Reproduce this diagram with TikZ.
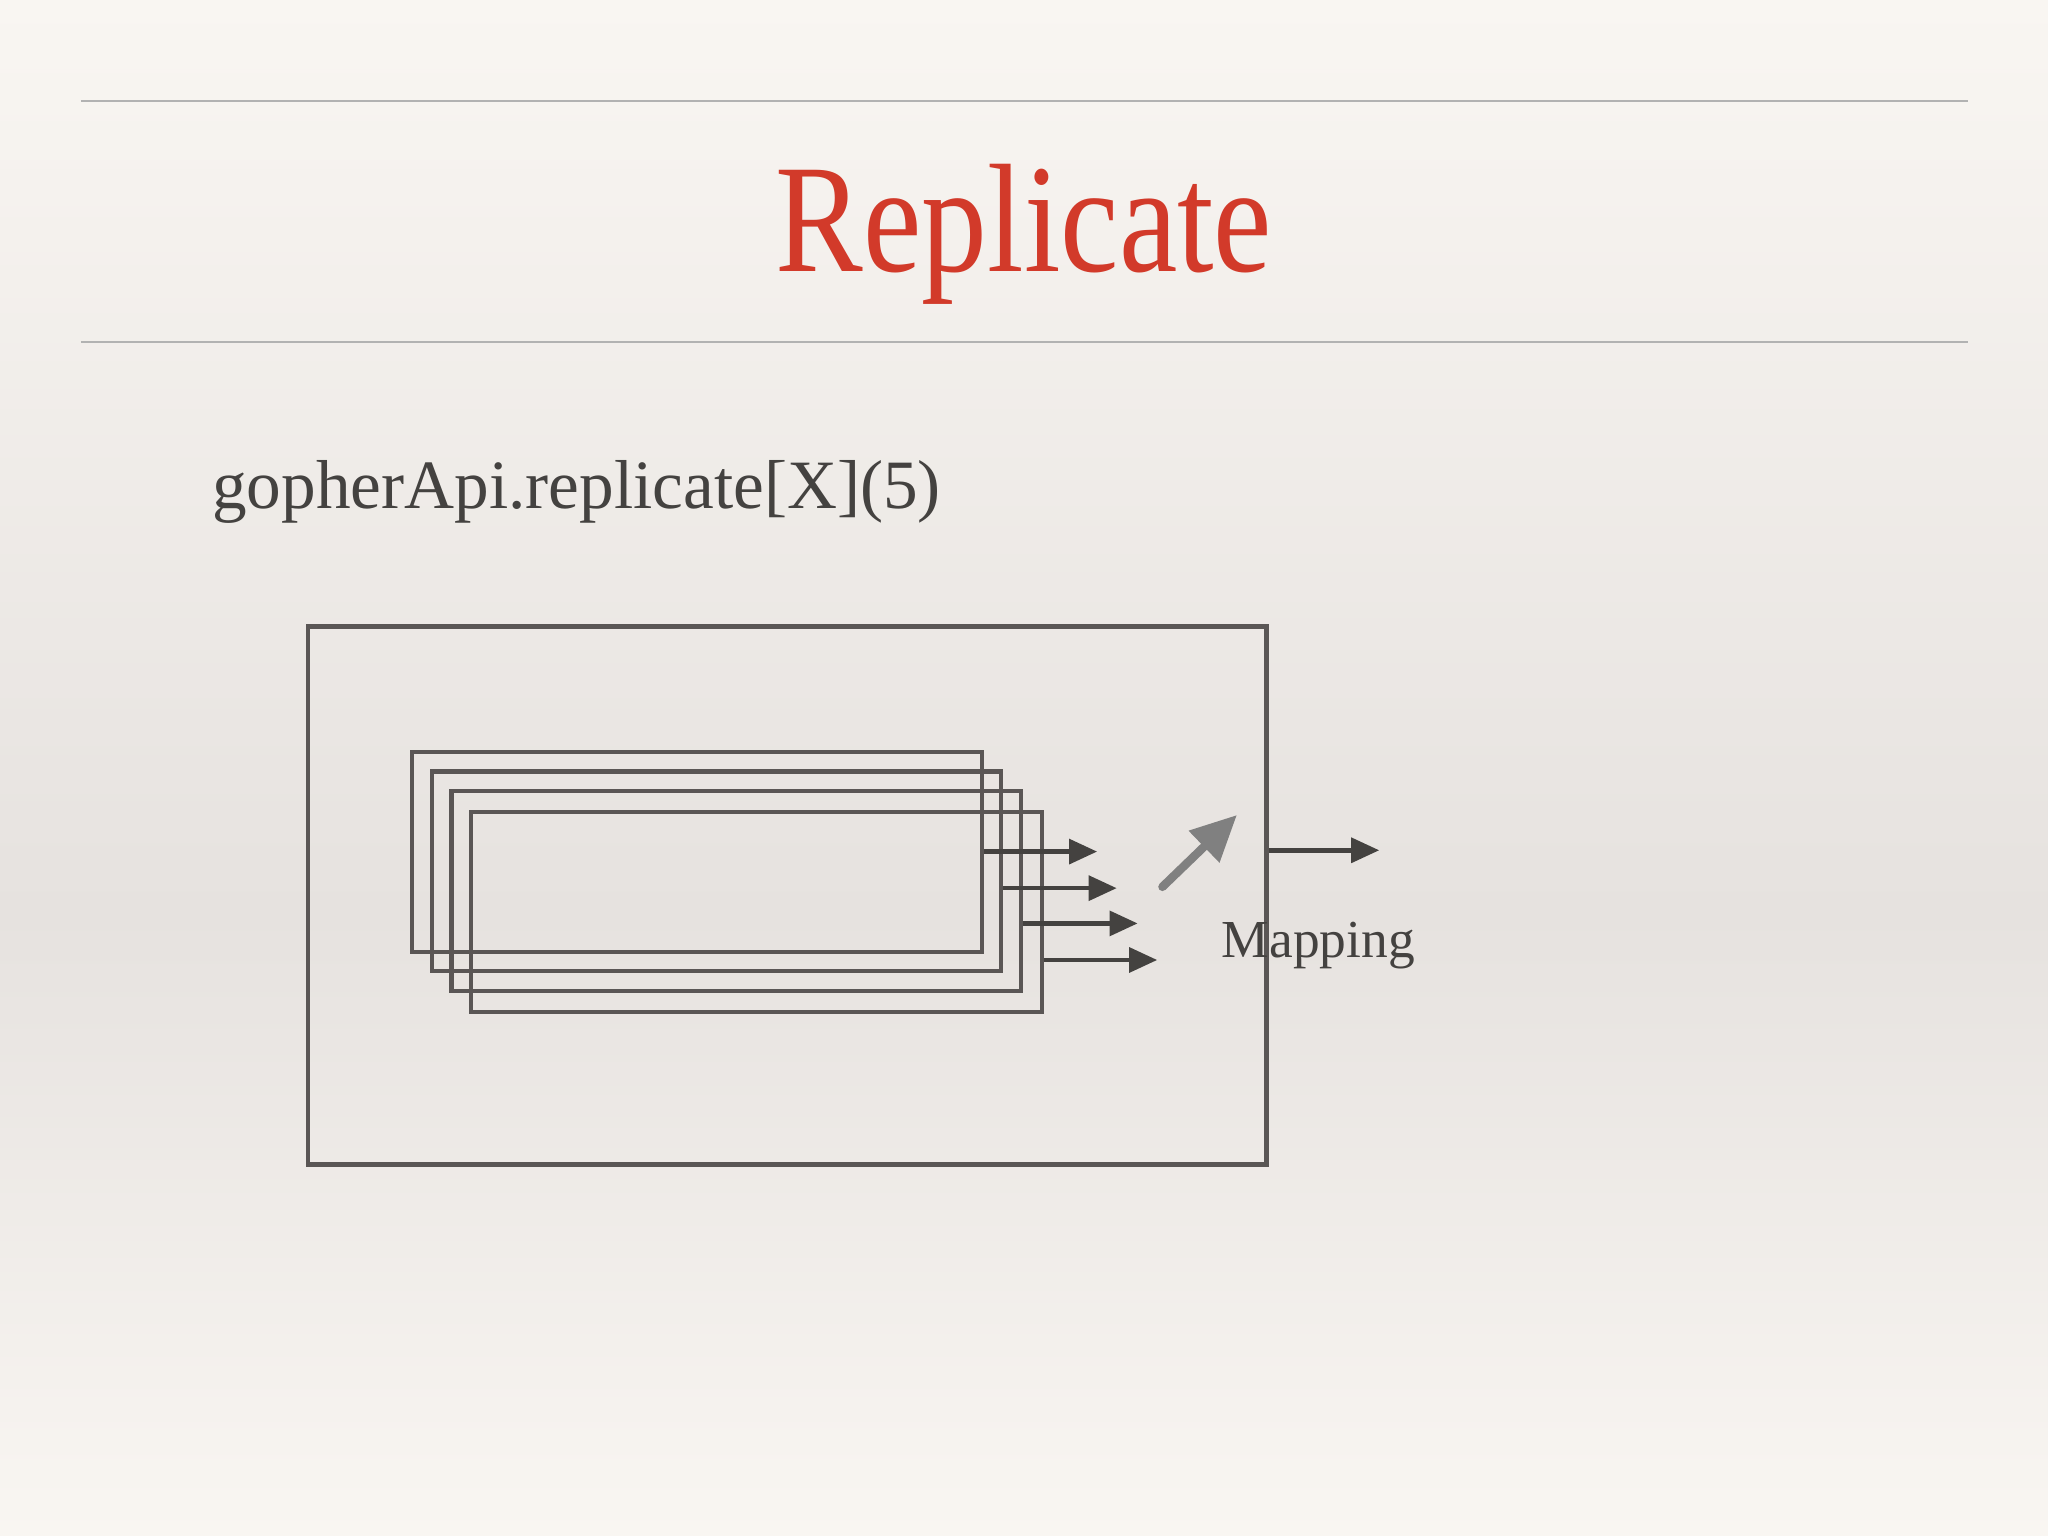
\documentclass[tikz,border=0pt]{standalone}
\usepackage{fontspec}
\setmainfont{Liberation Serif}
\usetikzlibrary{arrows.meta}
\definecolor{bgtop}{HTML}{F9F6F2}
\definecolor{bgmid}{HTML}{E6E2DF}
\definecolor{ttl}{HTML}{D23A2A}
\definecolor{ink}{HTML}{444240}
\definecolor{boxc}{HTML}{5A5655}
\tikzset{
  frame/.style={draw=boxc, line width=1.2pt},
  arr/.style={draw=ink, line width=1.3pt, -{Triangle[length=8pt,width=7pt]}},
  rule/.style={draw=gray!60, line width=0.6pt}
}
\begin{document}
\begin{tikzpicture}[x=0.01306cm,y=-0.01306cm]
\shade[top color=bgtop, bottom color=bgmid] (0,0) rectangle (1568,700);
\shade[top color=bgmid, bottom color=bgtop] (0,700) rectangle (1568,1176);
\useasboundingbox (0,0) rectangle (1568,1176);
\draw[rule] (62,77) -- (1507,77);
\draw[rule] (62,262) -- (1507,262);
\node[text=ttl, font=\fontsize{44}{48}\selectfont, anchor=base, xscale=0.85] (title) at (784,208) {Replicate};
\node[text=ink, font=\fontsize{19.7}{22}\selectfont, anchor=base west, inner sep=0pt] (code) at (162,389) {gopherApi.replicate[X](5)};
\node[frame, minimum width=734*0.01306cm, minimum height=412*0.01306cm, inner sep=0pt, anchor=north west] (outer) at (234,478) {};
\node[frame, minimum width=436*0.01306cm, minimum height=153*0.01306cm, inner sep=0pt, anchor=north west] (r1) at (314,574) {};
\node[frame, minimum width=436*0.01306cm, minimum height=153*0.01306cm, inner sep=0pt, anchor=north west] (r2) at (329,589) {};
\node[frame, minimum width=436*0.01306cm, minimum height=153*0.01306cm, inner sep=0pt, anchor=north west] (r3) at (344,604) {};
\node[frame, minimum width=437*0.01306cm, minimum height=153*0.01306cm, inner sep=0pt, anchor=north west] (r4) at (359,620) {};
\coordinate (e1) at (840,652);
\coordinate (e2) at (855,680);
\coordinate (e3) at (871,707);
\coordinate (e4) at (886,735);
\draw[arr] (r1.east |- e1) -- (e1);
\draw[arr] (r2.east |- e2) -- (e2);
\draw[arr] (r3.east |- e3) -- (e3);
\draw[arr] (r4.east |- e4) -- (e4);
\coordinate (s1) at (890,679);
\coordinate (s2) at (947,624);
\draw[draw=gray, line width=2.4pt, line cap=round, -{Triangle[length=13pt,width=12pt]}] (s1) -- (s2);
\coordinate (o1) at (1056,651);
\draw[arr] (outer.east |- o1) -- (o1);
\node[text=ink, font=\fontsize{15.2}{17}\selectfont, anchor=base west, inner sep=0pt] (map) at (935,733) {Mapping};
\end{tikzpicture}
\end{document}
